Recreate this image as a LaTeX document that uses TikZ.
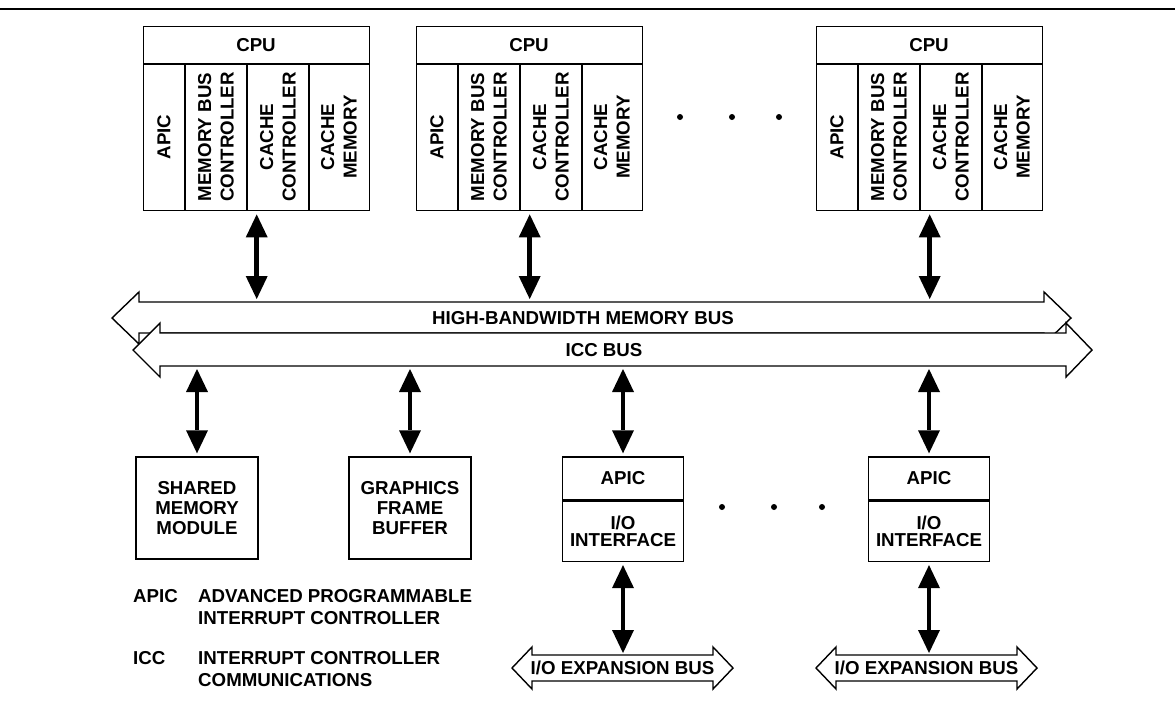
\documentclass[tikz,border=0pt]{standalone}
\usepackage{fontspec}
\setmainfont{Liberation Sans}
\usetikzlibrary{arrows.meta,positioning}

\begin{document}
    \begin{tikzpicture}[x=1pt,y=-1pt,
        font=\bfseries\fontsize{18.7}{22.5}\selectfont,
        linea/.style={line width=1.4pt},
        caja/.style={draw,line width=1.4pt,inner sep=0pt,align=center},
        bus/.style={draw,fill=white,line width=1.4pt},
        flecha/.style={line width=4.8pt,
            {Triangle[width=22pt,length=23pt,line width=0pt]}-{Triangle[width=22pt,length=23pt,line width=0pt]},
            shorten <=3pt,shorten >=3pt}]
        \useasboundingbox (0,0) rectangle (1175,705);

        % Linea superior
        \draw[line width=2.8pt] (0,9) -- (1175,9);

        % Procesadores
        \foreach \x/\n in {143/1,416/2,816/3} {
            \node[caja,minimum width=226pt,minimum height=184pt,anchor=north west] (cpu\n) at (\x,26) {};
            \draw[linea] (\x,64) -- (\x+226,64);
            \foreach \c in {42,104,166}
                \draw[linea] (\x+\c,64) -- (\x+\c,210);
            \node at (\x+113,45) {CPU};
            \node[rotate=90] at (\x+21,137) {APIC};
            \node[rotate=90,align=center] at (\x+73,137) {MEMORY BUS\\CONTROLLER};
            \node[rotate=90,align=center] at (\x+135,137) {CACHE\\CONTROLLER};
            \node[rotate=90,align=center] at (\x+196,137) {CACHE\\MEMORY};
        }
        \foreach \x in {680,732,779}
            \fill (\x,117) circle (3pt);

        % Buses
        \draw[bus] (112,318) -- (139,292) -- (139,302) -- (1044,302) -- (1044,292) -- (1071,318)
            -- (1044,344) -- (1044,333) -- (139,333) -- (139,344) -- cycle;
        \draw[bus] (133,350) -- (160,323) -- (160,333) -- (1066,333) -- (1066,323) -- (1092,350)
            -- (1066,377) -- (1066,366) -- (160,366) -- (160,377) -- cycle;
        \node (membus) at (583,318) {HIGH-BANDWIDTH MEMORY BUS};
        \node (iccbus) at (604,350) {ICC BUS};
        \coordinate (memtop) at (0,302);
        \coordinate (iccbot) at (0,366);
        \coordinate (xtop) at (0,656);

        % Modulos
        \node[caja,minimum width=122pt,minimum height=102pt,font=\bfseries\fontsize{18.7}{20}\selectfont] (shmem) at (197,508) {SHARED\\MEMORY\\MODULE};
        \node[caja,minimum width=122pt,minimum height=102pt,font=\bfseries\fontsize{18.7}{20}\selectfont] (gfx) at (410,508) {GRAPHICS\\FRAME\\BUFFER};
        \node[caja,minimum width=121pt,minimum height=43pt] (apic1) at (623,478.5) {APIC};
        \node[caja,minimum width=121pt,minimum height=60pt,below=0pt of apic1,font=\bfseries\fontsize{18.7}{17}\selectfont] (ioif1) {I/O\\INTERFACE};
        \node[caja,minimum width=121pt,minimum height=43pt] (apic2) at (929,478.5) {APIC};
        \node[caja,minimum width=121pt,minimum height=60pt,below=0pt of apic2,font=\bfseries\fontsize{18.7}{17}\selectfont] (ioif2) {I/O\\INTERFACE};
        \foreach \x in {722,774,822}
            \fill (\x,507) circle (3pt);

        % Buses de expansion
        \foreach \a/\n in {512/1,816/2} {
            \draw[bus] (\a,668) -- ++(20,-21) -- ++(0,8) -- ++(181,0) -- ++(0,-8) -- ++(20,21)
                -- ++(-20,21) -- ++(0,-8) -- ++(-181,0) -- ++(0,8) -- cycle;
            \node (xbus\n) at (\a+110.5,668) {I/O EXPANSION BUS};
        }

        % Flechas
        \foreach \n in {1,2,3}
            \draw[flecha] (cpu\n.south) -- (cpu\n.south |- memtop);
        \draw[flecha] (shmem.north |- iccbot) -- (shmem.north);
        \draw[flecha] (gfx.north |- iccbot) -- (gfx.north);
        \draw[flecha] (apic1.north |- iccbot) -- (apic1.north);
        \draw[flecha] (apic2.north |- iccbot) -- (apic2.north);
        \draw[flecha] (ioif1.south) -- (ioif1.south |- xtop);
        \draw[flecha] (ioif2.south) -- (ioif2.south |- xtop);

        % Leyenda
        \node[anchor=west,inner sep=0pt] (apicabr) at (133,596) {APIC};
        \node[anchor=west,inner sep=0pt,align=left] (apicdef) at (198,607) {ADVANCED PROGRAMMABLE\\INTERRUPT CONTROLLER};
        \node[anchor=west,inner sep=0pt] (iccabr) at (133,658) {ICC};
        \node[anchor=west,inner sep=0pt,align=left] (iccdef) at (198,669) {INTERRUPT CONTROLLER\\COMMUNICATIONS};
    \end{tikzpicture}
\end{document}
